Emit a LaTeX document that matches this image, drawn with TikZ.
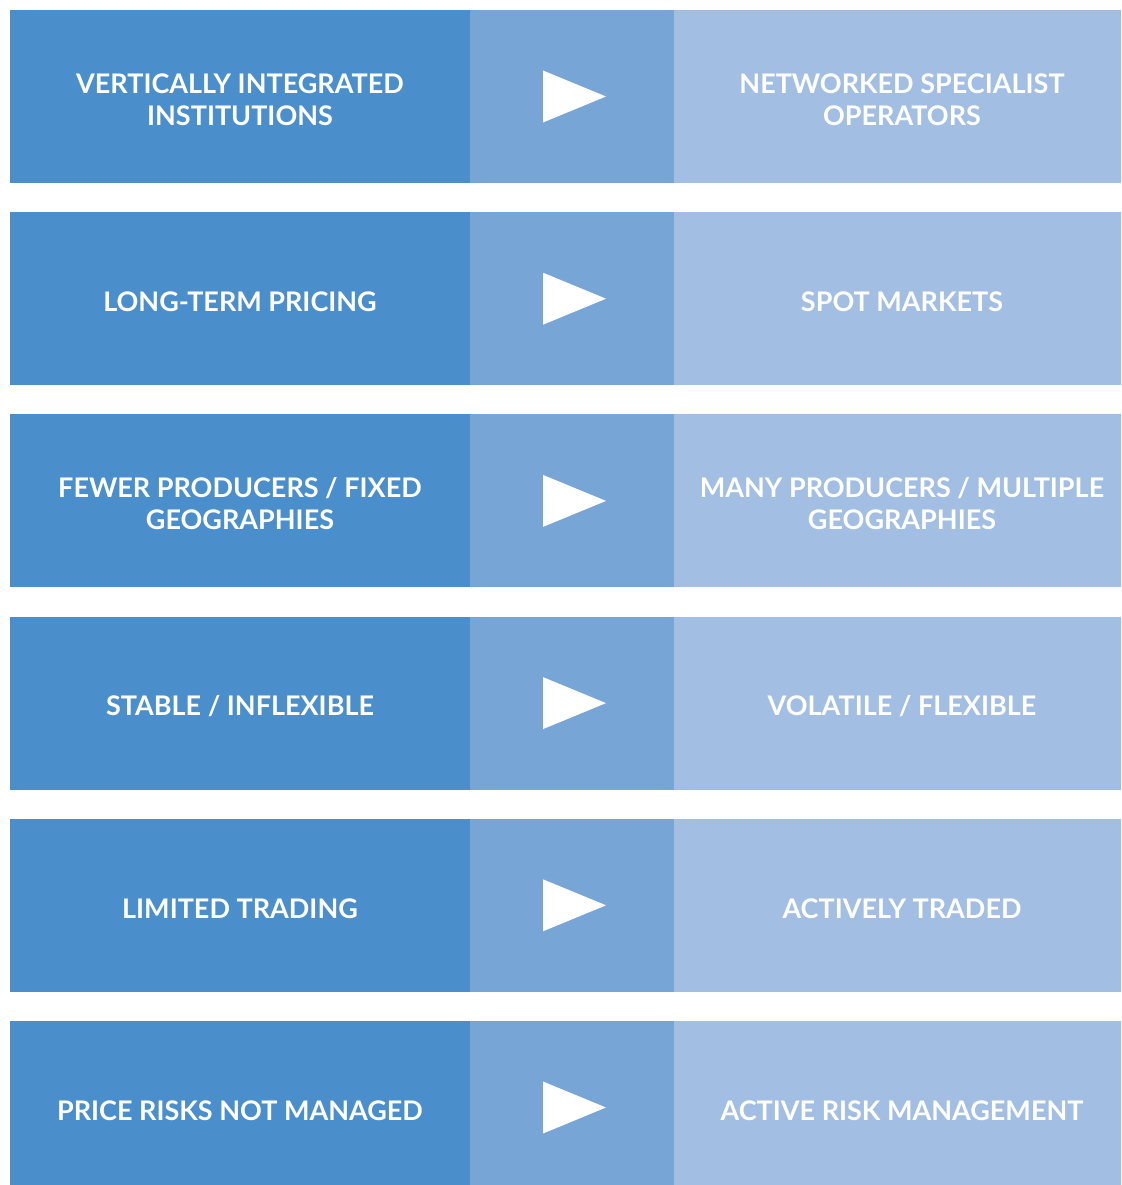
\documentclass[tikz,border=0pt]{standalone}
\usepackage{fontspec}
\setmainfont{Lato}
\definecolor{oldblue}{RGB}{74,142,203}
\definecolor{midblue}{RGB}{119,165,214}
\definecolor{newblue}{RGB}{162,190,227}
\tikzset{
	cell/.style={minimum height=173pt, inner sep=0pt},
	celltext/.style={text=white, align=center, inner sep=0pt, yshift=-3pt,
		font=\bfseries\fontsize{27}{32}\selectfont},
	oldcell/.style={cell, fill=oldblue, minimum width=460pt},
	midcell/.style={cell, fill=midblue, minimum width=204pt},
	newcell/.style={cell, fill=newblue, minimum width=456pt},
	arrowhead/.style={fill=white}
}

\begin{document}
\begin{tikzpicture}[x=1pt,y=-1pt]
	\useasboundingbox (0,0) rectangle (1121,1185);
	\clip (0,0) rectangle (1121,1185);
	\node[oldcell, label={[celltext]center:VERTICALLY INTEGRATED\\INSTITUTIONS}] (old1) at (240,96.5) {};
	\node[midcell] (mid1) at (572,96.5) {};
	\node[newcell, label={[celltext]center:NETWORKED SPECIALIST\\OPERATORS}] (new1) at (902,96.5) {};
	\node[oldcell, label={[celltext]center:LONG-TERM PRICING}] (old2) at (240,298.7) {};
	\node[midcell] (mid2) at (572,298.7) {};
	\node[newcell, label={[celltext]center:SPOT MARKETS}] (new2) at (902,298.7) {};
	\node[oldcell, label={[celltext]center:FEWER PRODUCERS / FIXED\\GEOGRAPHIES}] (old3) at (240,500.9) {};
	\node[midcell] (mid3) at (572,500.9) {};
	\node[newcell, label={[celltext]center:MANY PRODUCERS / MULTIPLE\\GEOGRAPHIES}] (new3) at (902,500.9) {};
	\node[oldcell, label={[celltext]center:STABLE / INFLEXIBLE}] (old4) at (240,703.1) {};
	\node[midcell] (mid4) at (572,703.1) {};
	\node[newcell, label={[celltext]center:VOLATILE / FLEXIBLE}] (new4) at (902,703.1) {};
	\node[oldcell, label={[celltext]center:LIMITED TRADING}] (old5) at (240,905.3) {};
	\node[midcell] (mid5) at (572,905.3) {};
	\node[newcell, label={[celltext]center:ACTIVELY TRADED}] (new5) at (902,905.3) {};
	\node[oldcell, label={[celltext]center:PRICE RISKS NOT MANAGED}] (old6) at (240,1107.5) {};
	\node[midcell] (mid6) at (572,1107.5) {};
	\node[newcell, label={[celltext]center:ACTIVE RISK MANAGEMENT}] (new6) at (902,1107.5) {};
	
	\fill[arrowhead, shift={(mid1.center)}] (-29,-26)--(34,0)--(-29,26)--cycle;
	\fill[arrowhead, shift={(mid2.center)}] (-29,-26)--(34,0)--(-29,26)--cycle;
	\fill[arrowhead, shift={(mid3.center)}] (-29,-26)--(34,0)--(-29,26)--cycle;
	\fill[arrowhead, shift={(mid4.center)}] (-29,-26)--(34,0)--(-29,26)--cycle;
	\fill[arrowhead, shift={(mid5.center)}] (-29,-26)--(34,0)--(-29,26)--cycle;
	\fill[arrowhead, shift={(mid6.center)}] (-29,-26)--(34,0)--(-29,26)--cycle;
	
\end{tikzpicture}
\end{document}
